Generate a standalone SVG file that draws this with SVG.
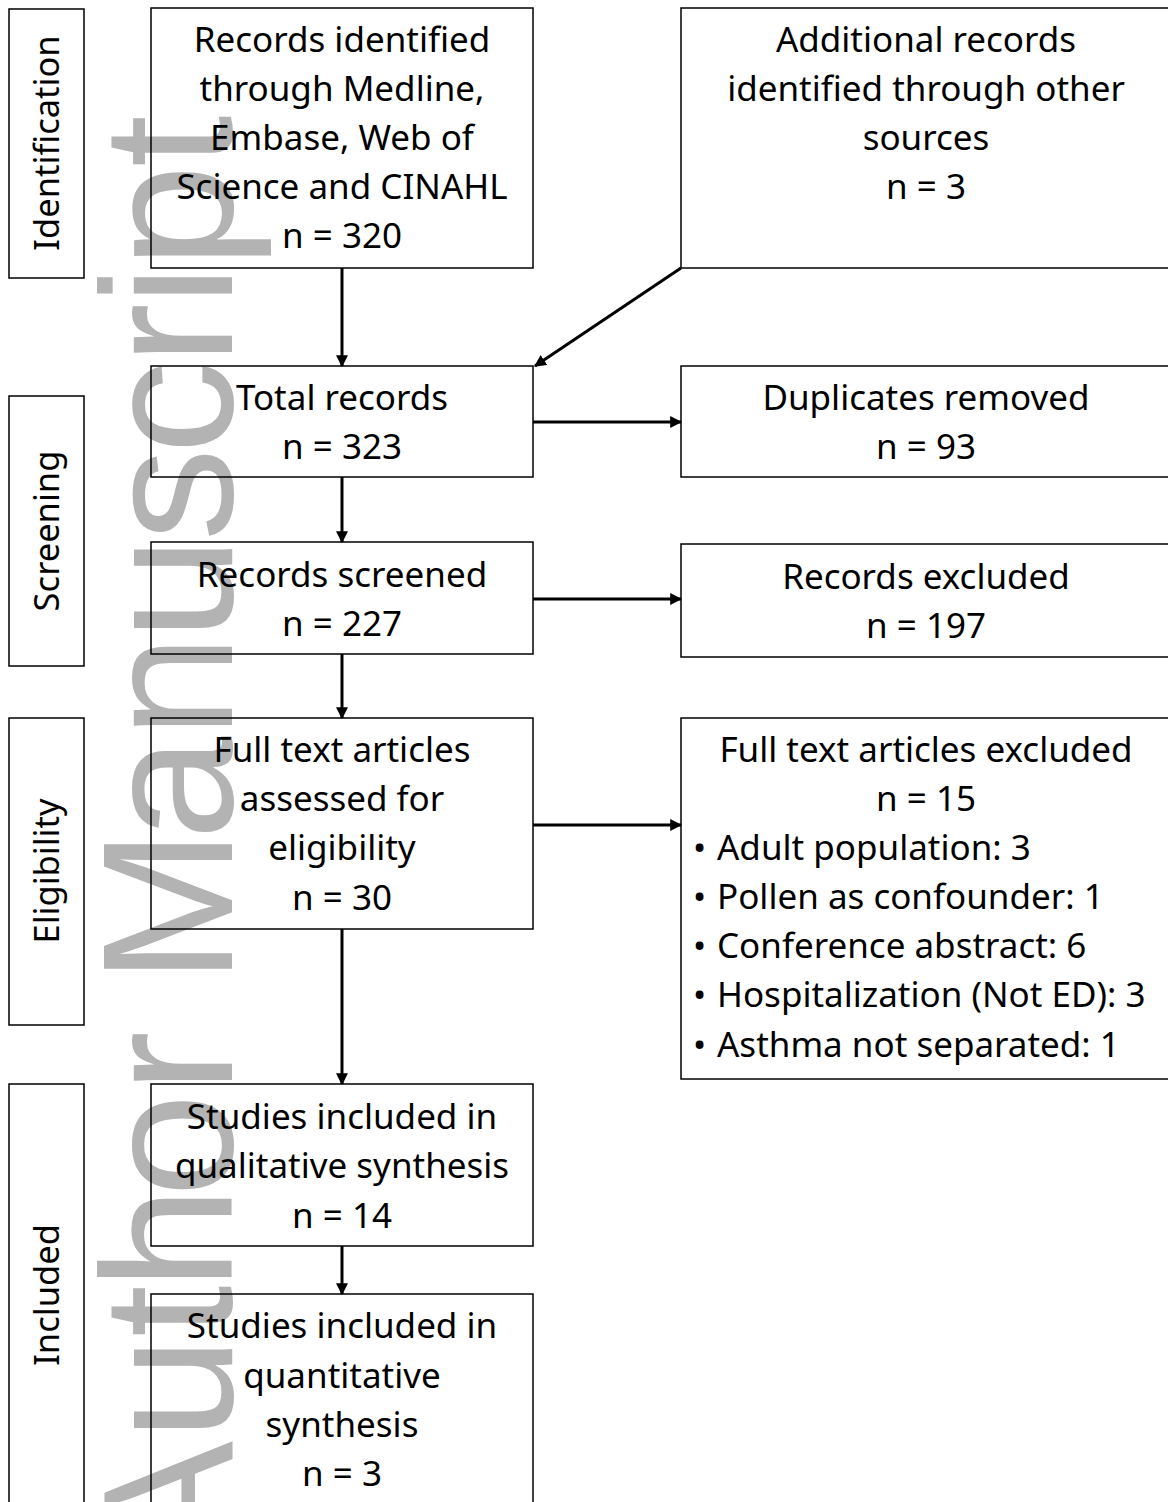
<svg xmlns="http://www.w3.org/2000/svg" width="1168" height="1502" viewBox="0 0 1168 1502">
<defs>
<style>
.box{fill:none;stroke:#000;stroke-width:1.5}
.t{font-family:"Noto Sans","Open Sans",sans-serif;font-size:35px;fill:#000;text-anchor:middle}
.tl{font-family:"Noto Sans","Open Sans",sans-serif;font-size:35px;fill:#000}
.v{font-family:"Noto Sans","Open Sans",sans-serif;font-size:34.5px;fill:#000;text-anchor:middle}
.wm{font-family:"Liberation Sans",Arial,sans-serif;font-size:186px;fill:#b3b3b3}
.c{stroke:#000;stroke-width:3;fill:none;marker-end:url(#ah)}
</style>
<marker id="ah" viewBox="0 0 10 10" refX="9" refY="5" markerWidth="4" markerHeight="4" orient="auto" markerUnits="strokeWidth">
<path d="M0,0 L10,5 L0,10 z" fill="#000"/>
</marker>
</defs>
<rect width="1168" height="1502" fill="#fff"/>
<text class="wm" transform="translate(232,1600) rotate(-90)" x="35 160 263 310 403 507 570 616 760 862 960 1059 1146 1235 1294 1332 1433">Author Manuscript</text>

<g id="stage-identification"><rect class="box" x="9" y="9" width="75" height="269"/><text class="v" transform="translate(59,143) rotate(-90)">Identification</text></g>
<g id="stage-screening"><rect class="box" x="9" y="396" width="75" height="270"/><text class="v" transform="translate(59,531) rotate(-90)">Screening</text></g>
<g id="stage-eligibility"><rect class="box" x="9" y="718" width="75" height="307"/><text class="v" transform="translate(59,871) rotate(-90)">Eligibility</text></g>
<g id="stage-included"><rect class="box" x="9" y="1084" width="75" height="430"/><text class="v" transform="translate(59,1295) rotate(-90)">Included</text></g>

<g id="records-identified"><rect class="box" x="151" y="8" width="382" height="260"/>
<text class="t" x="342" y="52">Records identified</text>
<text class="t" x="342" y="101">through Medline,</text>
<text class="t" x="342" y="150">Embase, Web of</text>
<text class="t" x="342" y="199">Science and CINAHL</text>
<text class="t" x="342" y="248">n = 320</text></g>

<g id="additional-records"><rect class="box" x="681" y="8" width="500" height="260"/>
<text class="t" x="926" y="52">Additional records</text>
<text class="t" x="926" y="101">identified through other</text>
<text class="t" x="926" y="150">sources</text>
<text class="t" x="926" y="199">n = 3</text></g>

<g id="total-records"><rect class="box" x="151" y="366" width="382" height="111"/>
<text class="t" x="342" y="410">Total records</text>
<text class="t" x="342" y="459">n = 323</text></g>

<g id="duplicates-removed"><rect class="box" x="681" y="366" width="500" height="111"/>
<text class="t" x="926" y="410">Duplicates removed</text>
<text class="t" x="926" y="459">n = 93</text></g>

<g id="records-screened"><rect class="box" x="151" y="542" width="382" height="112"/>
<text class="t" x="342" y="587">Records screened</text>
<text class="t" x="342" y="636">n = 227</text></g>

<g id="records-excluded"><rect class="box" x="681" y="544" width="500" height="113"/>
<text class="t" x="926" y="589">Records excluded</text>
<text class="t" x="926" y="638">n = 197</text></g>

<g id="full-text-assessed"><rect class="box" x="151" y="718" width="382" height="211"/>
<text class="t" x="342" y="762">Full text articles</text>
<text class="t" x="342" y="811">assessed for</text>
<text class="t" x="342" y="860">eligibility</text>
<text class="t" x="342" y="910">n = 30</text></g>

<g id="full-text-excluded"><rect class="box" x="681" y="718" width="500" height="361"/>
<text class="t" x="926" y="762">Full text articles excluded</text>
<text class="t" x="926" y="811">n = 15</text>
<text class="tl" x="693" y="860">•</text><text class="tl" x="717" y="860">Adult population: 3</text>
<text class="tl" x="693" y="909">•</text><text class="tl" x="717" y="909">Pollen as confounder: 1</text>
<text class="tl" x="693" y="958">•</text><text class="tl" x="717" y="958">Conference abstract: 6</text>
<text class="tl" x="693" y="1007">•</text><text class="tl" x="717" y="1007">Hospitalization (Not ED): 3</text>
<text class="tl" x="693" y="1057">•</text><text class="tl" x="717" y="1057">Asthma not separated: 1</text></g>

<g id="qualitative"><rect class="box" x="151" y="1084" width="382" height="162"/>
<text class="t" x="342" y="1129">Studies included in</text>
<text class="t" x="342" y="1178">qualitative synthesis</text>
<text class="t" x="342" y="1228">n = 14</text></g>

<g id="quantitative"><rect class="box" x="151" y="1294" width="382" height="230"/>
<text class="t" x="342" y="1338">Studies included in</text>
<text class="t" x="342" y="1388">quantitative</text>
<text class="t" x="342" y="1437">synthesis</text>
<text class="t" x="342" y="1486">n = 3</text></g>

<g id="connectors">
<line class="c" x1="342" y1="268" x2="342" y2="366"/>
<line class="c" x1="681" y1="268" x2="535" y2="366"/>
<line class="c" x1="533" y1="422" x2="681" y2="422"/>
<line class="c" x1="342" y1="477" x2="342" y2="542"/>
<line class="c" x1="533" y1="599" x2="681" y2="599"/>
<line class="c" x1="342" y1="654" x2="342" y2="718"/>
<line class="c" x1="533" y1="825" x2="681" y2="825"/>
<line class="c" x1="342" y1="929" x2="342" y2="1084"/>
<line class="c" x1="342" y1="1246" x2="342" y2="1294"/>
</g>
</svg>
